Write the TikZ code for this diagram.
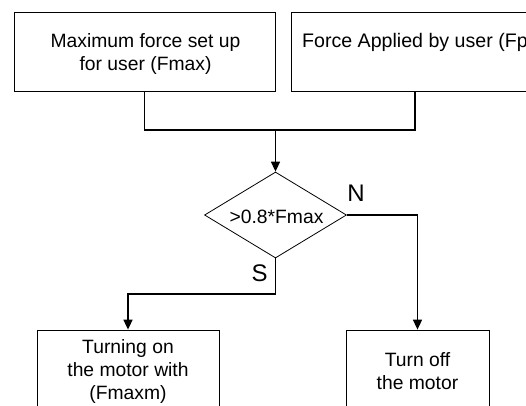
\documentclass[tikz,border=0pt]{standalone}
\usepackage{fontspec}
\setmainfont{Liberation Sans}
\usetikzlibrary{shapes.geometric,arrows.meta}
\begin{document}
\begin{tikzpicture}[x=1bp,y=-1bp,
  txt/.style={font=\fontsize{19.3bp}{23bp}\selectfont},
  box/.style={draw, line width=0.8bp, inner sep=0pt, align=center, txt},
  lbl/.style={inner sep=0pt, align=center, txt},
  big/.style={inner sep=0pt, font=\fontsize{24bp}{28bp}\selectfont},
  conn/.style={line width=1.6bp},
  arr/.style={conn, -{Triangle[length=10bp,width=9bp]}}]
\useasboundingbox (0,0) rectangle (526,405);
\fill[white] (0,0) rectangle (526,405);
\clip (0,0) rectangle (526,405);
\node[box, minimum width=261bp, minimum height=79bp] (b1) at (144.5,51.5) {};
\node[lbl] (t1) at (145.5,53.5) {Maximum force set up\\for user (Fmax)};
\node[box, minimum width=248bp, minimum height=79bp] (b2) at (415,51.5) {};
\node[lbl, anchor=west, font=\fontsize{19.6bp}{23bp}\selectfont] (t2) at (302,42) {Force Applied by user (Fp)};
\node[draw, shape=diamond, line width=0.8bp, inner sep=0pt, minimum width=142bp, minimum height=86bp, txt] (d) at (275.5,215) {};
\node[lbl] (td) at (276.5,217) {>0.8*Fmax};
\node[box, minimum width=182bp, minimum height=83bp] (b3) at (128,371.5) {Turning on\\the motor with\\(Fmaxm)};
\node[box, minimum width=143bp, minimum height=83bp] (b4) at (417.5,371.5) {Turn off\\the motor};
\coordinate (j) at (275.5,130);
\coordinate (k) at (275.5,294);
\draw[conn] (b1.south) |- (b2.south |- j) -- (b2.south);
\draw[arr] (j) -- (d.north);
\draw[arr] (d.east) -| (b4.north);
\draw[arr] (d.south) -- (k) -| (b3.north);
\node[big] (n) at (356,193) {N};
\node[big] (s) at (259.5,273) {S};
\end{tikzpicture}
\end{document}
